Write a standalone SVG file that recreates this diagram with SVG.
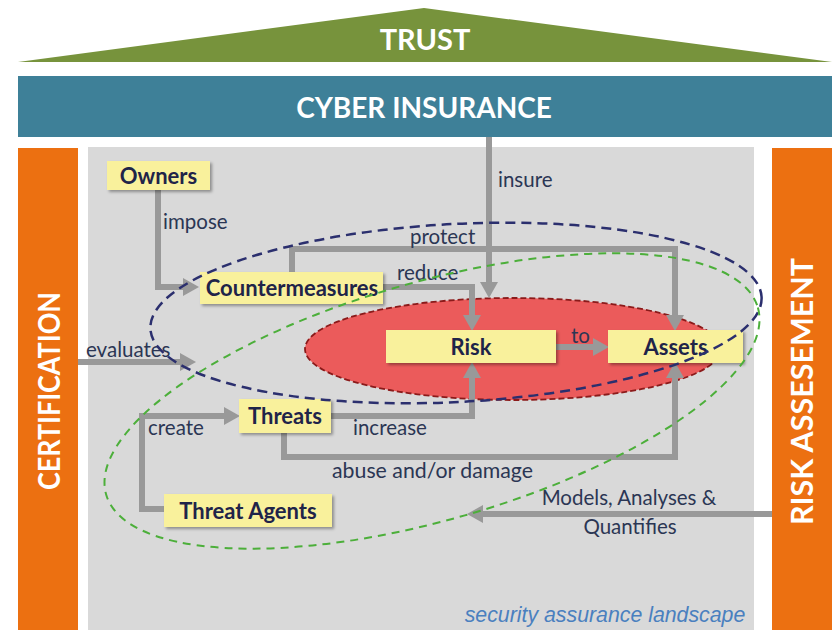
<svg xmlns="http://www.w3.org/2000/svg" width="832" height="630" viewBox="0 0 832 630">
  <style>
    .banner { font-family: Lato, "Open Sans", "Liberation Sans", sans-serif; font-weight: 700; fill: #ffffff; text-anchor: middle; }
    .node rect { fill: #f9f19c; filter: url(#shadow); }
    .node text { font-family: Lato, "Open Sans", "Liberation Sans", sans-serif; font-weight: 700; font-size: 22px; fill: #1f2449; text-anchor: middle; }
    .lbl { font-family: Lato, "Open Sans", "Liberation Sans", sans-serif; font-size: 20.5px; fill: #2b3654; }
    .wire { fill: none; stroke: #999999; stroke-width: 6; stroke-linejoin: miter; marker-end: url(#head); }
    .scope { fill: none; }
  </style>
  <defs>
    <filter id="shadow" x="-10%" y="-20%" width="130%" height="160%">
      <feDropShadow dx="2" dy="2" stdDeviation="1.5" flood-color="#000000" flood-opacity="0.35"/>
    </filter>
    <marker id="head" markerUnits="userSpaceOnUse" markerWidth="18" markerHeight="18" refX="1" refY="9" orient="auto" viewBox="0 0 16 18">
      <path d="M0,0 L16,9 L0,18 z" fill="#999999"/>
    </marker>
  </defs>

  <!-- roof -->
  <g id="trust">
    <polygon points="18,62 424,8 832,62" fill="#77933c"/>
    <text class="banner" x="425" y="50" font-size="29">TRUST</text>
  </g>

  <!-- insurance beam -->
  <g id="cyber-insurance">
    <rect x="18" y="76" width="814" height="61" fill="#3e8098"/>
    <text class="banner" x="424" y="118" font-size="28">CYBER INSURANCE</text>
  </g>

  <!-- side pillars -->
  <g id="certification">
    <rect x="18" y="148" width="60" height="482" fill="#ec7011"/>
    <text class="banner" transform="translate(60,391) rotate(-90)" font-size="30" textLength="198" lengthAdjust="spacingAndGlyphs">CERTIFICATION</text>
  </g>
  <g id="risk-assessment">
    <rect x="772" y="148" width="60" height="482" fill="#ec7011"/>
    <text class="banner" transform="translate(813,391.5) rotate(-90)" font-size="30" textLength="267" lengthAdjust="spacingAndGlyphs">RISK ASSESEMENT</text>
  </g>

  <!-- landscape panel -->
  <g id="landscape">
    <rect x="88" y="147" width="666" height="483" fill="#d9d9d9"/>
    <text x="605" y="622" text-anchor="middle" font-family="'Liberation Sans', Arial, sans-serif" font-style="italic" font-size="21.3" fill="#4a80bf">security assurance landscape</text>
  </g>

  <!-- risk zone -->
  <g id="risk-zone">
    <ellipse cx="513" cy="349" rx="208" ry="51" fill="#eb5b5b" stroke="#8b1a1a" stroke-width="1.8" stroke-dasharray="6 3"/>
  </g>

  <g id="connectors">
    <path class="wire" d="M489,137 V283"/>
    <path class="wire" d="M158,190 V287 H184"/>
    <path class="wire" d="M292,272 V249 H675 V316"/>
    <path class="wire" d="M383,287 H472 V316"/>
    <path class="wire" d="M556,347 H594"/>
    <path class="wire" d="M78,362 H181"/>
    <path class="wire" d="M164,509 H142 V416 H225"/>
    <path class="wire" d="M331,416 H472 V377"/>
    <path class="wire" d="M284,433 V457 H675 V377"/>
    <path class="wire" d="M772,514 H482"/>
    <text class="lbl" x="498" y="187">insure</text>
    <text class="lbl" x="163" y="229">impose</text>
    <text class="lbl" x="410" y="244">protect</text>
    <text class="lbl" x="397" y="280">reduce</text>
    <text class="lbl" x="571" y="343">to</text>
    <text class="lbl" x="86" y="357">evaluates</text>
    <text class="lbl" x="148" y="435">create</text>
    <text class="lbl" x="353" y="435">increase</text>
    <text class="lbl" x="332" y="478" textLength="201" lengthAdjust="spacingAndGlyphs">abuse and/or damage</text>
    <text class="lbl" x="629" y="505" text-anchor="middle" font-size="21.5">Models, Analyses &amp;</text>
    <text class="lbl" x="630" y="534" text-anchor="middle" font-size="21.5">Quantifies</text>
  </g>

  <g id="owners" class="node">
    <rect x="107" y="161" width="103" height="29"/>
    <text x="158.5" y="183.5">Owners</text>
  </g>
  <g id="countermeasures" class="node">
    <rect x="200" y="272" width="183" height="32"/>
    <text x="292" y="296">Countermeasures</text>
  </g>
  <g id="risk" class="node">
    <rect x="386" y="330" width="170" height="33"/>
    <text x="471" y="354.5">Risk</text>
  </g>
  <g id="assets" class="node">
    <rect x="608" y="330" width="135" height="33"/>
    <text x="675.5" y="354.5">Assets</text>
  </g>
  <g id="threats" class="node">
    <rect x="239" y="399" width="92" height="34"/>
    <text x="285" y="424">Threats</text>
  </g>
  <g id="threat-agents" class="node">
    <rect x="164" y="494" width="168" height="33"/>
    <text x="248" y="518.5">Threat Agents</text>
  </g>

  <!-- dashed scope outlines -->
  <g id="scopes">
    <ellipse class="scope" cx="456" cy="313" rx="306" ry="89" transform="rotate(-3 456 313)" stroke="#2b2f6e" stroke-width="2.5" stroke-dasharray="10 6"/>
    <ellipse class="scope" cx="432" cy="401" rx="339" ry="119" transform="rotate(-16 432 401)" stroke="#4caf3a" stroke-width="2" stroke-dasharray="8 6"/>
  </g>
</svg>
